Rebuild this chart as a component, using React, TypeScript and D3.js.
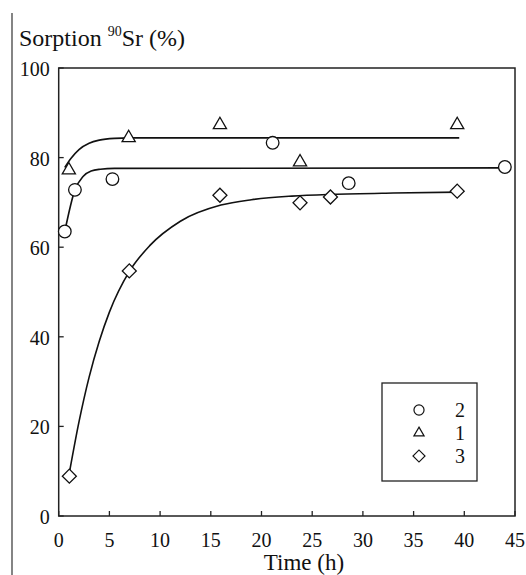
import * as d3 from "d3";

// measured points (time h, sorption %)
const s1Time = [1, 6.9, 15.9, 23.8, 39.3];
const s1Value = [77.2, 84.4, 87.3, 79, 87.3];
const s2Time = [0.6, 1.6, 5.3, 21.1, 28.6, 44.0];
const s2Value = [63.5, 72.8, 75.2, 83.3, 74.3, 77.9];
const s3Time = [1.05, 6.96, 15.9, 23.8, 26.8, 39.3];
const s3Value = [8.9, 54.7, 71.6, 69.9, 71.2, 72.5];

// fitted curves
const c1Time = [0.6, 1.2, 2, 3, 4, 5.5, 7, 39.5];
const c1Value = [77.8, 79.8, 81.8, 83.2, 83.9, 84.3, 84.4, 84.4];
const c2Time = [0.6, 1.6, 2.4, 3.2, 4.1, 5.5, 44.3];
const c2Value = [63.5, 72.8, 75.8, 77, 77.4, 77.6, 77.7];
const c3Time = [1, 2, 3, 4, 5, 7, 9, 12, 16, 19, 23, 27, 33, 39.5];
const c3Value = [9, 21, 31, 39, 45.5, 54.7, 60.4, 65.8, 69.4, 70.6, 71.4, 71.8, 72.1, 72.3];

const xTicks = [0, 5, 10, 15, 20, 25, 30, 35, 40, 45];
const yTicks = [0, 20, 40, 60, 80, 100];
const legendLabels = ["2", "1", "3"];

const FONT = "Liberation Serif";
const INK = "#111";

const left = 58.7;
const right = 515;
const top = 68;
const bottom = 516;

const x = d3.scaleLinear().domain([0, 45]).range([left, right]);
const y = d3.scaleLinear().domain([0, 100]).range([bottom, top]);

const line = d3
    .line<[number, number]>()
    .x((d) => x(d[0]))
    .y((d) => y(d[1]))
    .curve(d3.curveMonotoneX);

const zip = (ts: number[], vs: number[]) =>
    ts.map((t, i) => [t, vs[i]] as [number, number]);

const circle = (s: number) => d3.symbol(d3.symbolCircle, s)() || "";
const triangle = (s: number) => d3.symbol(d3.symbolTriangle, s)() || "";
const square = (s: number) => d3.symbol(d3.symbolSquare, s)() || "";

const curves = [zip(c1Time, c1Value), zip(c2Time, c2Value), zip(c3Time, c3Value)];

const series = [
    { pts: zip(s2Time, s2Value), d: circle(125), legendD: circle(80), rot: 0 },
    { pts: zip(s1Time, s1Value), d: triangle(75), legendD: triangle(45), rot: 0 },
    { pts: zip(s3Time, s3Value), d: square(98), legendD: square(72), rot: 45 },
];

export default function App() {
    return (
        <svg
            width={526}
            height={575}
            style={{ position: "absolute", left: 0, top: 0, background: "#fff" }}
        >
            {/* thin rule at the left edge of the image */}
            <line x1={12} x2={12} y1={13} y2={575} stroke="#333" strokeWidth={1.2} />

            <text x={19} y={46} fontSize={24} fontFamily={FONT} fill={INK}>
                <tspan>Sorption </tspan>
                <tspan fontSize={14} dy={-10}>90</tspan>
                <tspan dy={10}>Sr (%)</tspan>
            </text>

            {/* y axis */}
            {yTicks.map((t) => (
                <g key={`y${t}`} transform={`translate(0, ${y(t)})`}>
                    <line x1={left} x2={left + 5} stroke="#222" strokeWidth={1.3} />
                    <text x={left - 9} dy="0.4em" textAnchor="end" fontSize={20} fontFamily={FONT} fill={INK}>
                        {t}
                    </text>
                </g>
            ))}

            {/* x axis */}
            {xTicks.map((t) => (
                <g key={`x${t}`} transform={`translate(${x(t)}, 0)`}>
                    <line y1={bottom} y2={bottom - 5} stroke="#222" strokeWidth={1.3} />
                    <text y={bottom + 31} textAnchor="middle" fontSize={20} fontFamily={FONT} fill={INK}>
                        {t}
                    </text>
                </g>
            ))}

            <rect
                x={left}
                y={top}
                width={right - left}
                height={bottom - top}
                fill="none"
                stroke="#222"
                strokeWidth={1.5}
            />

            <text x={304} y={570} textAnchor="middle" fontSize={23} fontFamily={FONT} fill={INK}>
                Time (h)
            </text>

            {curves.map((pts, i) => (
                <path key={`c${i}`} d={line(pts) || ""} fill="none" stroke={INK} strokeWidth={1.6} />
            ))}

            {series.map((s, i) => (
                <g key={`s${i}`}>
                    {s.pts.map((p, j) => (
                        <path
                            key={j}
                            d={s.d}
                            transform={`translate(${x(p[0])}, ${y(p[1])}) rotate(${s.rot})`}
                            fill="#fff"
                            stroke={INK}
                            strokeWidth={1.3}
                        />
                    ))}
                </g>
            ))}

            {/* legend */}
            <g>
                <rect x={382} y={383} width={95} height={98} fill="#fff" stroke="#222" strokeWidth={1.3} />
                {legendLabels.map((label, i) => {
                    const rowY = 410 + i * 23;
                    return (
                        <g key={label}>
                            <path
                                d={series[i].legendD}
                                transform={`translate(419, ${rowY}) rotate(${series[i].rot})`}
                                fill="#fff"
                                stroke={INK}
                                strokeWidth={1.2}
                            />
                            <text
                                x={460}
                                y={rowY}
                                dy="0.35em"
                                textAnchor="middle"
                                fontSize={20}
                                fontFamily={FONT}
                                fill={INK}
                            >
                                {label}
                            </text>
                        </g>
                    );
                })}
            </g>
        </svg>
    );
}
